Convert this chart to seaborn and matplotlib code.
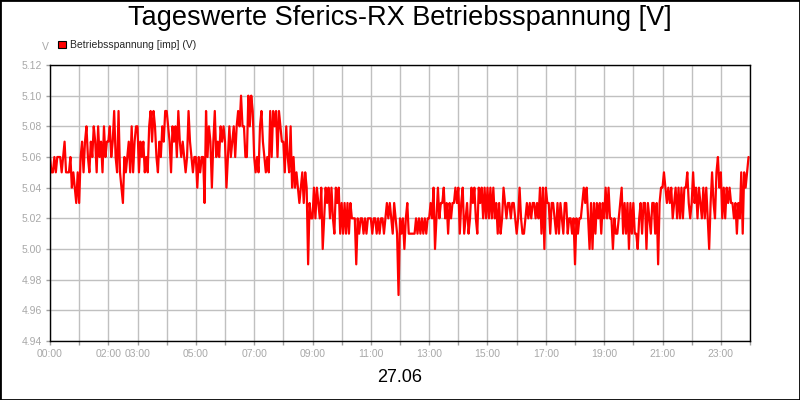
import numpy as np
import pandas as pd
import seaborn as sns
import matplotlib.pyplot as plt
from matplotlib.patches import Patch, Rectangle

spannung = [
    5.06, 5.05, 5.05, 5.06, 5.05, 5.06, 5.06, 5.06, 5.05, 5.06, 5.07, 5.05, 5.05, 5.05, 5.06, 5.04, 5.05, 5.04, 5.03, 5.05,  # 00
    5.03, 5.06, 5.07, 5.05, 5.07, 5.08, 5.06, 5.05, 5.07, 5.06, 5.08, 5.07, 5.05, 5.08, 5.06, 5.07, 5.05, 5.08, 5.06, 5.07,  # 01
    5.07, 5.08, 5.06, 5.07, 5.09, 5.06, 5.05, 5.09, 5.05, 5.04, 5.03, 5.06, 5.05, 5.06, 5.07, 5.05, 5.08, 5.05, 5.07, 5.08,  # 02
    5.08, 5.05, 5.07, 5.06, 5.07, 5.05, 5.06, 5.05, 5.08, 5.09, 5.07, 5.09, 5.08, 5.06, 5.05, 5.07, 5.06, 5.08, 5.07, 5.09,  # 03
    5.09, 5.08, 5.07, 5.05, 5.08, 5.07, 5.08, 5.06, 5.09, 5.07, 5.06, 5.07, 5.06, 5.05, 5.06, 5.09, 5.07, 5.06, 5.05, 5.06,  # 04
    5.06, 5.04, 5.06, 5.05, 5.06, 5.06, 5.03, 5.09, 5.06, 5.08, 5.07, 5.04, 5.07, 5.09, 5.06, 5.07, 5.06, 5.08, 5.07, 5.08,  # 05
    5.07, 5.04, 5.06, 5.08, 5.06, 5.07, 5.08, 5.06, 5.08, 5.09, 5.08, 5.10, 5.08, 5.08, 5.06, 5.06, 5.10, 5.08, 5.10, 5.09,  # 06
    5.06, 5.05, 5.06, 5.05, 5.08, 5.09, 5.07, 5.06, 5.05, 5.06, 5.05, 5.09, 5.06, 5.09, 5.08, 5.09, 5.06, 5.09, 5.08, 5.07,  # 07
    5.07, 5.05, 5.08, 5.06, 5.05, 5.08, 5.04, 5.06, 5.04, 5.05, 5.04, 5.03, 5.04, 5.05, 5.03, 5.05, 5.04, 4.99, 5.03, 5.02,  # 08
    5.02, 5.04, 5.02, 5.04, 5.03, 5.02, 5.04, 5.00, 5.02, 5.04, 5.03, 5.04, 5.02, 5.04, 5.02, 5.01, 5.04, 5.03, 5.04, 5.01,  # 09
    5.03, 5.01, 5.03, 5.01, 5.03, 5.01, 5.03, 5.02, 5.02, 5.02, 4.99, 5.02, 5.01, 5.02, 5.02, 5.01, 5.02, 5.01, 5.02, 5.02,  # 10
    5.02, 5.01, 5.02, 5.02, 5.01, 5.02, 5.01, 5.02, 5.02, 5.01, 5.02, 5.03, 5.02, 5.03, 5.02, 5.01, 5.03, 5.02, 5.01, 4.97,  # 11
    5.02, 5.01, 5.02, 5.00, 5.02, 5.03, 5.01, 5.01, 5.01, 5.01, 5.01, 5.02, 5.01, 5.02, 5.01, 5.02, 5.01, 5.02, 5.01, 5.02,  # 12
    5.02, 5.03, 5.02, 5.04, 5.00, 5.02, 5.04, 5.02, 5.03, 5.03, 5.04, 5.02, 5.03, 5.01, 5.03, 5.02, 5.03, 5.03, 5.04, 5.03,  # 13
    5.04, 5.01, 5.03, 5.04, 5.01, 5.02, 5.03, 5.01, 5.02, 5.04, 5.03, 5.04, 5.02, 5.01, 5.04, 5.03, 5.04, 5.02, 5.04, 5.02,  # 14
    5.04, 5.02, 5.04, 5.02, 5.04, 5.02, 5.03, 5.01, 5.03, 5.01, 5.02, 5.04, 5.03, 5.02, 5.03, 5.03, 5.02, 5.03, 5.03, 5.02,  # 15
    5.01, 5.02, 5.04, 5.02, 5.01, 5.01, 5.02, 5.03, 5.02, 5.03, 5.02, 5.03, 5.03, 5.02, 5.03, 5.02, 5.04, 5.01, 5.04, 5.00,  # 16
    5.04, 5.03, 5.03, 5.01, 5.03, 5.03, 5.02, 5.01, 5.03, 5.01, 5.03, 5.02, 5.01, 5.03, 5.03, 5.01, 5.02, 5.02, 5.01, 5.02,  # 17
    4.99, 5.02, 5.01, 5.02, 5.02, 5.03, 5.04, 5.03, 5.04, 5.02, 5.00, 5.03, 5.00, 5.03, 5.01, 5.03, 5.02, 5.03, 5.01, 5.03,  # 18
    5.02, 5.04, 5.02, 5.04, 5.02, 5.02, 5.00, 5.02, 5.01, 5.01, 5.02, 5.03, 5.04, 5.01, 5.03, 5.01, 5.03, 5.00, 5.03, 5.01,  # 19
    5.03, 5.01, 5.01, 5.00, 5.02, 5.03, 5.01, 5.03, 5.03, 5.00, 5.03, 5.02, 5.01, 5.03, 5.03, 5.01, 5.03, 4.99, 5.03, 5.04,  # 20
    5.04, 5.05, 5.04, 5.03, 5.04, 5.03, 5.04, 5.02, 5.03, 5.04, 5.02, 5.04, 5.02, 5.04, 5.02, 5.04, 5.04, 5.05, 5.03, 5.02,  # 21
    5.03, 5.05, 5.03, 5.04, 5.02, 5.04, 5.03, 5.02, 5.04, 5.02, 5.04, 5.02, 5.00, 5.03, 5.05, 5.03, 5.02, 5.05, 5.06, 5.04,  # 22
    5.05, 5.02, 5.04, 5.02, 5.04, 5.03, 5.04, 5.03, 5.03, 5.02, 5.03, 5.01, 5.03, 5.02, 5.05, 5.01, 5.05, 5.04, 5.05, 5.06,  # 23
]

stunden_ticks = list(range(25))
stunden_labels = ['00:00', '', '02:00', '03:00', '', '05:00', '', '07:00', '', '09:00', '',
                  '11:00', '', '13:00', '', '15:00', '', '17:00', '', '19:00', '', '21:00', '',
                  '23:00', '']
y_ticks = [4.94, 4.96, 4.98, 5.00, 5.02, 5.04, 5.06, 5.08, 5.10, 5.12]

titel = 'Tageswerte Sferics-RX Betriebsspannung [V]'
datum = '27.06'
serie = 'Betriebsspannung [imp] (V)'

df = pd.DataFrame({'stunde': np.arange(len(spannung)) * 3 / 60.0, 'wert': spannung})

sns.set_theme(style='white')
plt.rcParams['font.family'] = ['Liberation Sans', 'DejaVu Sans']

fig = plt.figure(figsize=(8, 4), dpi=100)
ax = fig.add_axes([0.0625, 0.1475, 0.875, 0.69])

sns.lineplot(data=df, x='stunde', y='wert', ax=ax, color='#ff0000', linewidth=1.6)

ax.set_xlim(0, 24)
ax.set_ylim(4.94, 5.12)
ax.set_xticks(stunden_ticks)
ax.set_xticklabels(stunden_labels)
ax.set_yticks(y_ticks)
ax.set_yticklabels([f'{v:.2f}' for v in y_ticks])
ax.set_xlabel('')
ax.set_ylabel('')
ax.grid(True, color='#c0c0c0', linewidth=1)
ax.set_axisbelow(True)
ax.tick_params(axis='both', which='both', length=3, width=1, color='#a0a0a0',
               labelcolor='#a8a8a8', labelsize=7.5, pad=3, bottom=True, left=True)
for s in ax.spines.values():
    s.set_color('black')
    s.set_linewidth(1)

fig.text(0.5, 0.955, titel, ha='center', va='center', fontsize=19.5, color='black')
fig.text(0.5, 0.055, datum, ha='center', va='center', fontsize=13, color='black')
fig.text(0.0525, 0.883, 'V', ha='left', va='center', fontsize=7.5, color='#a8a8a8')

ax.legend(handles=[Patch(facecolor='#ff0000', edgecolor='black', linewidth=0.8, label=serie)],
          loc='center left', bbox_to_anchor=(0.011, 1.072), frameon=False, fontsize=7.5,
          handlelength=0.8, handleheight=0.8, handletextpad=0.4, borderaxespad=0, borderpad=0)

fig.patches.append(Rectangle((0, 0), 1, 1, transform=fig.transFigure, fill=False,
                             edgecolor='black', linewidth=2))

fig.savefig('out.png', dpi=100)
